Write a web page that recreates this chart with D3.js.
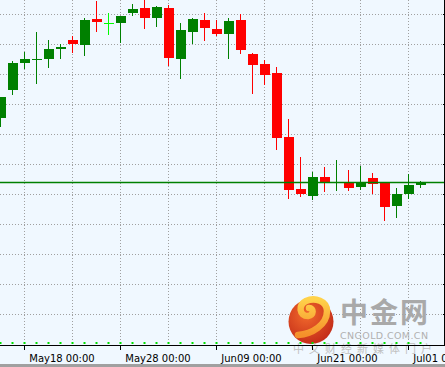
<!DOCTYPE html>
<html>
<head>
<meta charset="utf-8">
<script src="https://cdn.jsdelivr.net/npm/d3@7"></script>
<style>
  html, body { margin: 0; padding: 0; background: #f0f8ff; overflow: hidden; }
  svg { display: block; }
</style>
</head>
<body>
<svg width="445" height="367"></svg>
<script>
// daily candles, one per trading day
const dates = ["2010-05-14", "2010-05-17", "2010-05-18", "2010-05-19", "2010-05-20", "2010-05-21",
  "2010-05-24", "2010-05-25", "2010-05-26", "2010-05-27", "2010-05-28", "2010-05-31",
  "2010-06-01", "2010-06-02", "2010-06-03", "2010-06-04", "2010-06-07", "2010-06-08",
  "2010-06-09", "2010-06-10", "2010-06-11", "2010-06-14", "2010-06-15", "2010-06-16",
  "2010-06-17", "2010-06-18", "2010-06-21", "2010-06-22", "2010-06-23", "2010-06-24",
  "2010-06-25", "2010-06-28", "2010-06-29", "2010-06-30", "2010-07-01", "2010-07-02"];
const open = [1365.6, 1374.8, 1383.8, 1385.0, 1385.2, 1388.5, 1391.5, 1389.9, 1398.5, 1397.1, 1397.2, 1400.5,
  1402.2, 1398.8, 1402.2, 1385.2, 1394.2, 1398.2, 1395.2, 1393.5, 1398.2, 1386.8, 1383.5, 1380.5,
  1359.2, 1341.8, 1339.5, 1345.8, 1343.8, 1343.8, 1342.5, 1345.5, 1344.2, 1336.2, 1340.2, 1343.2];
const high = [1372.6, 1384.5, 1387.6, 1394.2, 1391.5, 1390.1, 1392.8, 1398.7, 1404.5, 1400.6, 1399.6, 1403.5,
  1405.2, 1402.9, 1403.2, 1397.2, 1398.8, 1400.5, 1398.2, 1398.8, 1400.2, 1387.2, 1384.8, 1382.5,
  1365.2, 1352.5, 1347.5, 1349.2, 1351.5, 1348.2, 1349.5, 1347.2, 1344.2, 1342.2, 1346.8, 1344.5];
const low = [1362.4, 1373.2, 1381.7, 1376.9, 1382.2, 1385.3, 1387.3, 1386.3, 1394.2, 1393.2, 1390.5, 1399.5,
  1395.2, 1395.8, 1382.8, 1378.5, 1390.2, 1391.2, 1392.8, 1385.2, 1386.8, 1373.5, 1376.5, 1354.8,
  1338.5, 1339.2, 1338.2, 1340.8, 1341.2, 1341.2, 1341.5, 1340.2, 1331.2, 1332.2, 1338.5, 1342.2];
const close = [1372.5, 1383.9, 1385.2, 1385.1, 1388.5, 1389.2, 1390.3, 1398.2, 1397.5, 1397.1, 1399.6, 1401.8,
  1398.8, 1402.6, 1385.5, 1394.8, 1398.5, 1395.5, 1393.5, 1397.8, 1388.2, 1383.2, 1379.8, 1358.9,
  1341.5, 1340.2, 1345.8, 1344.2, 1344.2, 1342.2, 1344.2, 1343.5, 1335.8, 1340.2, 1343.2, 1343.8];
const labelIdx = [2, 10, 18, 26, 34];
const gridIdx = [2, 6, 10, 14, 18, 22, 26, 30, 34];
const priceGrid = [1300, 1310, 1320, 1330, 1340, 1350, 1360, 1370, 1380, 1390, 1400];
const refLine = 1344.0;

const candles = dates.map((d, i) => ({
  i: i, date: d3.timeParse("%Y-%m-%d")(d),
  o: open[i], h: high[i], l: low[i], c: close[i]
}));

const svg = d3.select("svg");
const W = 445, axisY = 345;

const x = d3.scaleLinear().domain([0, 35]).range([0.5, 420.5]);
const y = d3.scaleLinear().domain([1290, 1400]).range([344.5, 14.5]);

const fmt = d3.timeFormat("%b%d %H:%M");
const colorOf = d => d.c > d.o ? "#008000" : (d.c < d.o ? "#ff0000" : "#00ff00");

svg.append("rect").attr("width", W).attr("height", 367).attr("fill", "#f0f8ff");

// dotted grid
const grid = svg.append("g").attr("stroke", "#a0a0a0").attr("stroke-dasharray", "1,2");
grid.selectAll(".gv").data(gridIdx).join("line")
  .attr("x1", d => x(d)).attr("x2", d => x(d))
  .attr("y1", 0).attr("y2", axisY);
grid.selectAll(".gh").data(priceGrid).join("line")
  .attr("x1", 0).attr("x2", 444)
  .attr("y1", d => y(d)).attr("y2", d => y(d));

// watermark
const defs = svg.append("defs");
const rg = defs.append("radialGradient").attr("id", "ball").attr("cx", "40%").attr("cy", "35%").attr("r", "70%");
rg.append("stop").attr("offset", "0%").attr("stop-color", "#f26a2c");
rg.append("stop").attr("offset", "100%").attr("stop-color", "#c22a18");
const lg = defs.append("linearGradient").attr("id", "swirl").attr("x1", "0").attr("y1", "0").attr("x2", "0").attr("y2", "1");
lg.append("stop").attr("offset", "0%").attr("stop-color", "#ffd24a");
lg.append("stop").attr("offset", "100%").attr("stop-color", "#f5902a");

const wm = svg.append("g");
wm.append("circle").attr("cx", 311).attr("cy", 321.5).attr("r", 22.5).attr("fill", "url(#ball)");
wm.append("path")
  .attr("d", "M298 335 C312 334 327 325 327 311 C327 301 315 297 306 301 C298 305 299 316 308 316 C314 315 314 308 309 308")
  .attr("fill", "none").attr("stroke", "url(#swirl)").attr("stroke-width", 6.5).attr("stroke-linecap", "round");
wm.append("text").attr("x", 340).attr("y", 323).attr("textLength", 88)
  .attr("font-family", "Noto Sans CJK SC").attr("font-weight", "bold").attr("font-size", 28)
  .attr("fill", "#a9a9a9").text("中金网");
wm.append("text").attr("x", 340).attr("y", 338.5).attr("textLength", 88)
  .attr("font-family", "DejaVu Sans").attr("font-size", 9.5)
  .attr("fill", "#b0b0b0").text("CNGOLD.COM.CN");
wm.append("text").attr("x", 293).attr("y", 353).attr("textLength", 139)
  .attr("font-family", "Noto Sans CJK SC").attr("font-size", 11)
  .attr("fill", "#c0c0c0").text("中文财经新媒体门户");

// candles: wick + body
const cg = svg.append("g").attr("shape-rendering", "crispEdges");
const cs = cg.selectAll("g").data(candles).join("g").attr("fill", colorOf).attr("stroke", colorOf);
cs.append("line")
  .attr("x1", d => x(d.i)).attr("x2", d => x(d.i))
  .attr("y1", d => y(d.h)).attr("y2", d => y(d.l));
cs.append("rect")
  .attr("stroke", "none")
  .attr("x", d => x(d.i) - 4.5).attr("width", 10)
  .attr("y", d => Math.round(y(Math.max(d.o, d.c))))
  .attr("height", d => Math.max(1, Math.round(y(Math.min(d.o, d.c))) - Math.round(y(Math.max(d.o, d.c)))));

// horizontal reference line
svg.append("line").attr("x1", 0).attr("x2", 444)
  .attr("y1", y(refLine)).attr("y2", y(refLine))
  .attr("stroke", "#008000").attr("stroke-width", 1.4);

// right axis
const ra = svg.append("g").attr("stroke", "#000").attr("shape-rendering", "crispEdges");
ra.append("line").attr("x1", 444.5).attr("x2", 444.5).attr("y1", 0).attr("y2", axisY + 0.5);
ra.selectAll(".t").data(priceGrid).join("line")
  .attr("x1", 443).attr("x2", 450).attr("y1", d => y(d)).attr("y2", d => y(d));

// bottom axis
const ba = svg.append("g");
ba.append("line").attr("x1", 0).attr("x2", 445).attr("y1", axisY + 0.5).attr("y2", axisY + 0.5)
  .attr("stroke", "#000").attr("shape-rendering", "crispEdges");
ba.selectAll(".dot").data(candles).join("rect")
  .attr("x", d => x(d.i) - 1).attr("y", axisY - 3).attr("width", 2).attr("height", 2)
  .attr("fill", "#00e000");
ba.selectAll(".tk").data(labelIdx).join("line")
  .attr("x1", d => x(d)).attr("x2", d => x(d))
  .attr("y1", axisY).attr("y2", axisY + 4.5)
  .attr("stroke", "#000").attr("shape-rendering", "crispEdges");
ba.selectAll(".lb").data(labelIdx).join("text")
  .attr("x", d => x(d) + 4.8).attr("y", 361.5)
  .attr("font-family", "DejaVu Sans").attr("font-size", 10).attr("fill", "#000")
  .text(d => fmt(candles[d].date));

// bottom strip
svg.append("rect").attr("x", 0).attr("y", 364).attr("width", W).attr("height", 3).attr("fill", "#a0a0a0");
</script>
</body>
</html>
